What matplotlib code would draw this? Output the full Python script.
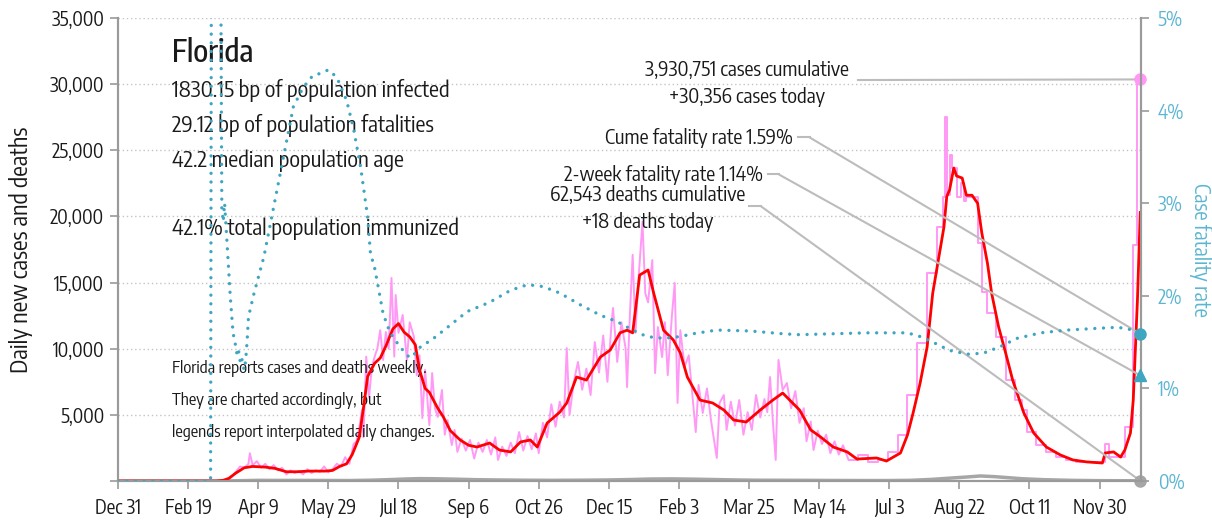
import matplotlib
matplotlib.use('Agg')
import matplotlib.pyplot as plt
import numpy as np

plt.rcParams['font.family'] = ['Encode Sans Condensed', 'DejaVu Sans']

# ---- data (days since Dec 31, 2019) ----
tick_days = [0, 50, 100, 150, 200, 250, 300, 350, 400, 450, 500, 550, 600, 650, 700]
tick_labels = ['Dec 31', 'Feb 19', 'Apr 9', 'May 29', 'Jul 18', 'Sep 6', 'Oct 26', 'Dec 15',
               'Feb 3', 'Mar 25', 'May 14', 'Jul 3', 'Aug 22', 'Oct 11', 'Nov 30']

# raw daily new cases while reported daily
raw_days = [0, 75, 78, 81, 84, 87, 90, 93, 94, 96, 99, 102, 105, 108, 111, 114, 117, 120, 123, 126,
            129, 132, 135, 138, 141, 144, 147, 150, 153, 156, 159, 162, 165, 168, 170, 172, 174, 175,
            177, 179, 181, 183, 185, 187, 189, 191, 193, 195, 197, 198, 200, 203, 206, 208, 211, 213,
            215, 217, 219, 222, 224, 226, 228, 231, 233, 235, 238, 240, 242, 245, 248, 251, 254, 257,
            260, 263, 266, 269, 271, 274, 277, 280, 283, 286, 289, 292, 295, 298, 300, 303, 306, 309,
            312, 315, 318, 320, 322, 325, 328, 331, 334, 337, 340, 343, 346, 349, 352, 353, 356, 359,
            362, 363, 365, 367, 369, 371, 374, 376, 378, 381, 383, 385, 388, 390, 392, 395, 397, 399,
            401, 404, 407, 410, 412, 414, 417, 420, 423, 427, 429, 432, 434, 437, 440, 443, 446, 449,
            452, 455, 458, 461, 463, 465, 467, 469, 471, 474, 477, 480, 483, 486, 489, 491, 494, 496,
            499, 502, 505, 508, 511, 514, 517, 521]
raw_cases = [0, 0, 80, 300, 700, 1100, 1000, 1300, 2100, 1200, 1500, 1000, 1300, 900, 1200, 800, 1000,
             500, 800, 600, 750, 500, 900, 600, 800, 700, 1100, 650, 900, 1300, 1100, 1800, 1300, 2800,
             3000, 4000, 5400, 3300, 9400, 6300, 8600, 9400, 10050, 11400, 9150, 11260, 10000, 15350,
             9400, 14060, 11200, 12550, 9150, 12000, 10900, 8000, 9500, 4760, 8400, 4230, 8160, 5500,
             4840, 6880, 3500, 4600, 2720, 3860, 2200, 3200, 2300, 3100, 1700, 2900, 2200, 3100, 2000,
             3300, 1590, 2600, 1900, 2900, 2100, 3700, 2300, 3400, 2400, 3600, 2100, 4400, 3300, 5800,
             4100, 6000, 4800, 10050, 5000, 7500, 9000, 6900, 8500, 6500, 10500, 8200, 11000, 7500,
             12000, 13080, 9000, 12000, 10000, 7100, 12500, 17100, 11200, 15000, 19600, 14200, 13500,
             16700, 8160, 11640, 9370, 12000, 8000, 12500, 14970, 5900, 11400, 8620, 9500, 6000, 3700,
             7260, 5140, 7000, 4500, 1740, 5900, 6500, 3860, 6000, 4200, 6120, 3500, 5200, 3860, 6500,
             4800, 6200, 5200, 7860, 4500, 1590, 9150, 6880, 7410, 5500, 6800, 4400, 5500, 3000, 4500,
             2340, 3800, 2800, 3500, 2100, 3000, 2000, 2700, 1590]

# weekly reported cases (spread per day), from Jun 4, 2021
week_days = [521, 528, 535, 542, 549, 556, 563, 570, 577, 584, 588, 590, 591, 593, 595, 598, 601, 603,
             605, 613, 616, 620, 626, 633, 640, 645, 648, 655, 662, 669, 676, 683, 704, 707, 718, 724,
             727, 729]
week_cases = [1590, 1970, 1440, 1590, 2200, 3480, 6500, 10430, 15700, 19200, 21500, 27500, 21600, 24650,
              23660, 21500, 22500, 21200, 21500, 18000, 14300, 12700, 10900, 7630, 6120, 5370, 3700,
              2720, 2200, 1810, 1590, 1440, 2800, 1810, 4080, 17840, 30356, 30356]

# average daily new cases
avg_days = [0, 70, 75, 79, 84, 90, 96, 105, 112, 120, 128, 136, 148, 153, 158, 163, 167, 172, 175, 178,
            183, 187, 191, 196, 200, 204, 208, 212, 215, 219, 222, 228, 232, 237, 244, 250, 256, 265,
            272, 280, 287, 294, 299, 306, 315, 320, 327, 334, 344, 351, 358, 363, 367, 372, 378, 382,
            389, 396, 401, 406, 415, 424, 432, 439, 448, 458, 467, 474, 486, 494, 501, 510, 520, 527,
            541, 548, 558, 563, 567, 572, 577, 581, 585, 589, 591, 593, 596, 598, 602, 605, 609, 613,
            616, 620, 623, 628, 633, 638, 646, 653, 662, 672, 681, 691, 702, 704, 710, 715, 718, 722,
            724, 727, 729]
avg_cases = [0, 0, 50, 200, 600, 1000, 1100, 1050, 950, 700, 700, 750, 750, 800, 1100, 1300, 2000, 3300,
             5500, 7900, 8900, 9300, 10200, 11500, 11900, 11250, 10900, 10300, 8400, 7000, 6700, 5500,
             4840, 3800, 3100, 2700, 2570, 2870, 2340, 2200, 2950, 3100, 2570, 4380, 5200, 5900, 7860,
             7630, 9370, 9900, 11200, 11400, 11200, 15570, 15950, 14200, 11400, 10660, 9680, 7860,
             6120, 5900, 5370, 4610, 4460, 5370, 6120, 6650, 5370, 3860, 3330, 2570, 2200, 1660, 1740,
             1510, 2120, 3480, 5140, 7400, 10130, 14200, 16700, 19200, 21500, 22000, 23660, 23060,
             22900, 21600, 21600, 21000, 18750, 16480, 14200, 11640, 9680, 7630, 5140, 3630, 2570,
             1970, 1590, 1440, 1360, 2120, 2200, 1810, 2340, 3630, 6120, 13700, 20300]

# average daily deaths
death_days = [0, 70, 80, 90, 100, 110, 130, 150, 165, 180, 195, 205, 215, 225, 240, 255, 270, 290, 310,
              330, 350, 365, 380, 395, 410, 425, 440, 455, 470, 490, 510, 530, 550, 565, 580, 595, 605,
              615, 625, 635, 645, 660, 680, 700, 715, 729]
deaths = [0, 0, 10, 30, 50, 45, 45, 40, 35, 60, 110, 150, 180, 170, 140, 100, 80, 60, 50, 60, 80, 110,
          150, 160, 140, 110, 80, 60, 55, 50, 40, 35, 35, 50, 120, 230, 300, 380, 330, 250, 170, 100,
          50, 25, 20, 18]

# cumulative case fatality rate, %
cfr_days = [0, 66, 67, 72, 74, 75, 76, 78, 80, 82, 84, 85, 86, 87, 88, 89, 90, 91, 92, 93, 97, 104, 111,
            118, 125, 132, 139, 144, 150, 156, 163, 168, 173, 178, 180, 183, 185, 189, 194, 201, 208,
            212, 215, 225, 235, 249, 265, 280, 292, 303, 315, 330, 344, 356, 367, 377, 389, 401, 410,
            427, 451, 474, 486, 510, 534, 563, 572, 581, 593, 606, 617, 629, 641, 658, 677, 700, 713,
            724, 729]
cfr = [0, 0, 10, 10, 2.95, 2.8, 3.0, 2.5, 2.0, 1.6, 1.45, 1.35, 1.4, 1.3, 1.35, 1.25, 1.2, 1.3, 1.5,
       1.77, 2.03, 2.42, 2.96, 3.5, 4.04, 4.25, 4.38, 4.4, 4.44, 4.36, 4.11, 3.8, 3.39, 2.85, 2.46, 2.3,
       2.14, 1.81, 1.6, 1.45, 1.33, 1.38, 1.44, 1.54, 1.66, 1.83, 1.93, 2.06, 2.12, 2.10, 2.03, 1.90,
       1.79, 1.72, 1.63, 1.56, 1.54, 1.56, 1.59, 1.63, 1.62, 1.59, 1.58, 1.59, 1.6, 1.6, 1.56, 1.5,
       1.41, 1.37, 1.38, 1.45, 1.54, 1.6, 1.63, 1.65, 1.66, 1.63, 1.59]

two_week_cfr = 1.14
deaths_today = 18
cases_today = 30356

info_lines = ['1830.15 bp of population infected', '29.12 bp of population fatalities',
              '42.2 median population age']
immunized = '42.1% total population immunized'
notes = ['Florida reports cases and deaths weekly.', 'They are charted accordingly, but',
         'legends report interpolated daily changes.']

# ---- styles ----
PINK = '#ff99f5'
RED = '#ff0000'
GRAY = '#a6a6a6'
TEAL = '#3fa6c2'
TEAL_TXT = '#5cb6d1'
LINE_GRAY = '#bcbcbc'
TXT = '#1a1a1a'

fig = plt.figure(figsize=(12.12, 5.2), dpi=100)
ax = fig.add_axes([0.0974, 0.075, 0.8441, 0.8904])
ax2 = ax.twinx()

ax.set_xlim(0, 729.6)
ax.set_ylim(0, 35000)
ax2.set_ylim(0, 5)

ax.plot(raw_days, raw_cases, color=PINK, lw=1.4, zorder=2)
ax.plot(week_days, week_cases, color=PINK, lw=1.4, drawstyle='steps-post', zorder=2)
ax.plot(death_days, deaths, color=GRAY, lw=2.5, zorder=3)
ax.plot(avg_days, avg_cases, color=RED, lw=2.0, zorder=4)
ax2.plot(cfr_days, cfr, color=TEAL, lw=2.4, linestyle=(0, (0.01, 2.6)),
         dash_capstyle='round', zorder=3)

# end markers
last = cfr_days[-1]
ax.plot([last], [cases_today], 'o', color=PINK, ms=8, clip_on=False, zorder=6)
ax.plot([last], [deaths_today], 'o', color=GRAY, ms=8, clip_on=False, zorder=6)
ax2.plot([last], [cfr[-1]], 'o', color=TEAL, ms=8, clip_on=False, zorder=6)
ax2.plot([last], [two_week_cfr], '^', color=TEAL, ms=9, clip_on=False, zorder=6)

# grid and axes
ax.set_yticks(range(0, 35001, 5000))
ax.set_yticklabels([''] + [f'{v:,}' for v in range(5000, 35001, 5000)])
ax.yaxis.grid(True, color='#c4c4c4', lw=1, linestyle=(0, (1, 2)))
ax.set_axisbelow(True)
ax.set_xticks(tick_days)
ax.set_xticklabels(tick_labels)
ax2.set_yticks(range(0, 6))
ax2.set_yticklabels([f'{v}%' for v in range(0, 6)])

for a in (ax, ax2):
    a.spines['top'].set_visible(False)
    for s in ('left', 'right', 'bottom'):
        a.spines[s].set_color('#9a9a9a')
        a.spines[s].set_linewidth(1.5)
ax.tick_params(axis='both', direction='out', length=6, width=1.2, color='#9a9a9a',
               labelsize=14, labelcolor=TXT, pad=4)
ax.tick_params(axis='x', pad=6)
ax2.tick_params(axis='y', direction='out', length=6, width=1.2, color='#9a9a9a',
                labelsize=14, labelcolor=TEAL_TXT, pad=6)

ax.set_ylabel('Daily new cases and deaths', fontsize=17, color=TXT, labelpad=12)
ax2.set_ylabel('Case fatality rate', fontsize=15, color=TEAL_TXT, rotation=270, labelpad=20)

# text block
tr = ax.transAxes
ax.text(0.053, 0.905, 'Florida', transform=tr, fontsize=22, fontweight='medium', color=TXT)
for i, line in enumerate(info_lines):
    ax.text(0.053, 0.829 - i * 0.0756, line, transform=tr, fontsize=16, color=TXT)
ax.text(0.053, 0.531, immunized, transform=tr, fontsize=16, color=TXT)
for i, line in enumerate(notes):
    ax.text(0.053, 0.233 - i * 0.0689, line, transform=tr, fontsize=12, color=TXT)

# annotations: text blocks tied to end markers
ann = dict(color=TXT, fontsize=14.5, transform=tr)
ax.text(0.615, 0.875, '3,930,751 cases cumulative', ha='center', **ann)
ax.text(0.615, 0.816, '+30,356 cases today', ha='center', **ann)
ax.text(0.660, 0.728, 'Cume fatality rate 1.59%', ha='right', **ann)
ax.text(0.630, 0.648, '2-week fatality rate 1.14%', ha='right', **ann)
ax.text(0.518, 0.605, '62,543 deaths cumulative', ha='center', **ann)
ax.text(0.518, 0.546, '+18 deaths today', ha='center', **ann)

lk = dict(color=LINE_GRAY, lw=1.5, zorder=5, clip_on=False)
for (x0, y0), dx, target, axis in [((0.723, 0.866), 0.0, cases_today, ax),
                                   ((0.665, 0.742), 0.011, cfr[-1], ax2),
                                   ((0.635, 0.662), 0.011, two_week_cfr, ax2),
                                   ((0.617, 0.594), 0.011, deaths_today, ax)]:
    ax.plot([x0, x0 + dx], [y0, y0], transform=tr, **lk)
    ax.annotate('', xy=(last, target), xycoords=axis.transData,
                xytext=(x0 + dx, y0), textcoords='axes fraction',
                arrowprops=dict(arrowstyle='-', color=LINE_GRAY, lw=1.5,
                                shrinkA=0, shrinkB=0), zorder=5)

fig.savefig('out.png', dpi=100)
